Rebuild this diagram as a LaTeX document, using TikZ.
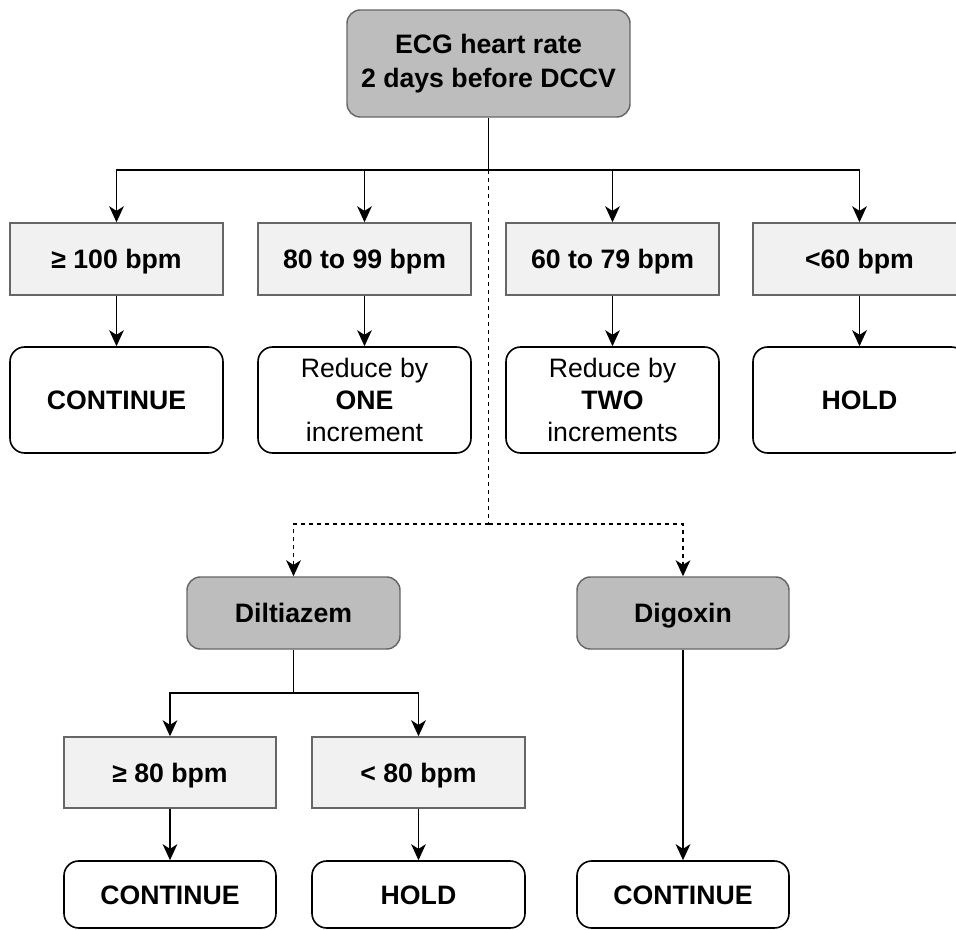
\documentclass[tikz,border=0pt]{standalone}
\usepackage{fontspec}
\setmainfont{Liberation Sans}
\usetikzlibrary{arrows.meta}
\definecolor{darkfill}{RGB}{189,189,189}
\definecolor{boxline}{RGB}{102,102,102}
\definecolor{lightfill}{RGB}{241,241,241}
\begin{document}
\begin{tikzpicture}[x=0.75pt,y=-0.75pt,
  txt/.style={font=\fontsize{20}{24}\selectfont, inner sep=0pt, align=center},
  one/.style={text height=14.3pt, text depth=0pt},
  darkbox/.style={txt, font=\fontsize{20}{25}\selectfont\bfseries, draw=boxline, fill=darkfill, rounded corners=10pt, line width=1.1pt},
  lightbox/.style={txt, one, font=\fontsize{20}{24}\selectfont\bfseries, draw=boxline, fill=lightfill, line width=1.1pt, minimum width=159.75pt, minimum height=54pt},
  whitebox/.style={txt, draw=black, fill=white, rounded corners=11pt, line width=1.2pt, minimum width=159.75pt},
  conn/.style={draw=black, line width=1.2pt},
  arr/.style={conn, -{Stealth[length=12pt, width=11pt, inset=3.5pt]}},
  dsh/.style={dash pattern=on 3pt off 3pt}
]
\clip (0,0) rectangle (956,930);
\fill[white] (0,0) rectangle (956,930);

% top
\node[darkbox, minimum width=212.25pt, minimum height=80.25pt] (top) at (488.5,63.5) {ECG heart rate\\2 days before DCCV};

% row 1
\node[lightbox] (ra) at (116.5,259) {≥ 100 bpm};
\node[lightbox] (rb) at (364.5,259) {80 to 99 bpm};
\node[lightbox] (rc) at (612.5,259) {60 to 79 bpm};
\node[lightbox] (rd) at (859.5,259) {<60 bpm};

% row 2
\node[whitebox, one, minimum height=79.5pt] (sa) at (116.5,400) {\bfseries CONTINUE};
\node[whitebox, minimum height=79.5pt] (sb) at (364.5,400) {Reduce by\\\textbf{ONE}\\increment};
\node[whitebox, minimum height=79.5pt] (sc) at (612.5,400) {Reduce by\\\textbf{TWO}\\increments};
\node[whitebox, one, minimum height=79.5pt] (sd) at (859.5,400) {\bfseries HOLD};

% drugs
\node[darkbox, one, minimum width=159.75pt, minimum height=54pt] (dil) at (293.5,613) {Diltiazem};
\node[darkbox, one, minimum width=159pt, minimum height=54pt] (dig) at (683,613) {Digoxin};

% row 3
\node[lightbox, minimum width=159pt, minimum height=53.25pt] (ta) at (170,772.5) {≥ 80 bpm};
\node[lightbox, minimum height=53.25pt] (tb) at (418.5,772.5) {< 80 bpm};

% row 4
\node[whitebox, one, minimum width=159pt, minimum height=50.25pt] (ua) at (170,894.5) {\bfseries CONTINUE};
\node[whitebox, one, minimum height=50.25pt] (ub) at (418.5,894.5) {\bfseries HOLD};
\node[whitebox, one, minimum width=159pt, minimum height=50.25pt] (uc) at (683,894.5) {\bfseries CONTINUE};

% junctions
\coordinate (j0) at (488.5,170);
\coordinate (jd) at (488.5,524);
\coordinate (j1) at (293.5,693);

% connectors
\draw[conn] (top.south) -- (j0);
\draw[arr] (j0) -| (ra.north);
\draw[arr] (j0) -| (rb.north);
\draw[arr] (j0) -| (rc.north);
\draw[arr] (j0) -| (rd.north);
\draw[arr] (ra) -- (sa);
\draw[arr] (rb) -- (sb);
\draw[arr] (rc) -- (sc);
\draw[arr] (rd) -- (sd);

\draw[conn, dsh] (j0) -- (jd);
\draw[arr, dsh] (jd) -| (dil.north);
\draw[arr, dsh] (jd) -| (dig.north);

\draw[conn] (dil.south) -- (j1);
\draw[arr] (j1) -| (ta.north);
\draw[arr] (j1) -| (tb.north);
\draw[arr] (ta) -- (ua);
\draw[arr] (tb) -- (ub);
\draw[arr] (dig) -- (uc);
\end{tikzpicture}
\end{document}
